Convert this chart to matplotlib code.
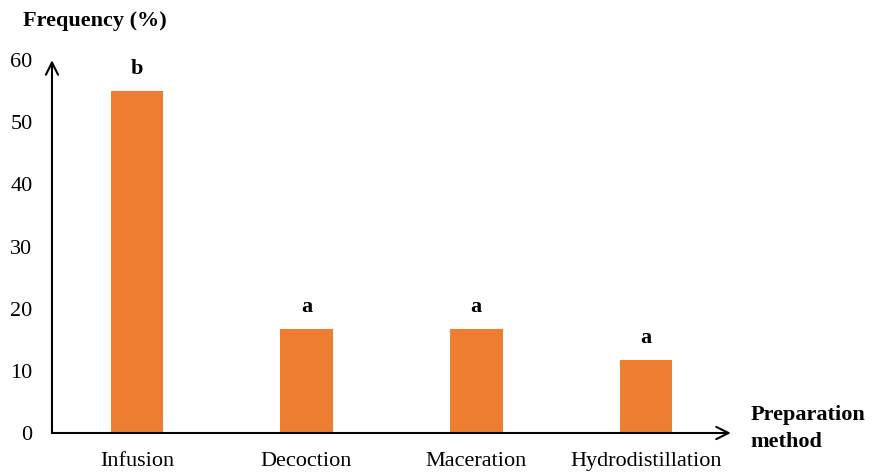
import matplotlib.pyplot as plt

# data
methods = ['Infusion', 'Decoction', 'Maceration', 'Hydrodistillation']
frequency = [55.0, 16.67, 16.67, 11.67]
letters = ['b', 'a', 'a', 'a']
yticks = [0, 10, 20, 30, 40, 50, 60]

plt.rcParams['font.family'] = ['Liberation Serif', 'DejaVu Serif']

fig = plt.figure(figsize=(8.72, 4.74), dpi=100)
ax = fig.add_axes([0.0596, 0.0865, 0.7785, 0.7865])

x = range(len(methods))
bars = ax.bar(x, frequency, width=0.31, color='#ED7D31')

# significance letters above bars
for xi, v, s in zip(x, frequency, letters):
    ax.annotate(s, (xi, v), xytext=(0, 9), textcoords='offset points',
                ha='center', va='bottom', fontsize=16, fontweight='bold')

ax.set_xlim(-0.5, 3.5)
ax.set_ylim(0, 60)
ax.set_yticks(yticks)
ax.set_xticks(list(x))
ax.set_xticklabels(methods)
ax.tick_params(axis='both', length=0, labelsize=16)
ax.tick_params(axis='y', pad=14)
ax.tick_params(axis='x', pad=14)

for sp in ax.spines.values():
    sp.set_visible(False)

# axis arrows
ax.annotate('', xy=(0, 1), xytext=(0, 0), xycoords='axes fraction',
            arrowprops=dict(arrowstyle='->', lw=1.5, color='black',
                            mutation_scale=22, shrinkA=0, shrinkB=0))
ax.annotate('', xy=(1, 0), xytext=(0, 0), xycoords='axes fraction',
            arrowprops=dict(arrowstyle='->', lw=1.5, color='black',
                            mutation_scale=22, shrinkA=0, shrinkB=0))

fig.text(0.026, 0.955, 'Frequency (%)', fontsize=16, fontweight='bold',
         ha='left', va='center')
fig.text(0.861, 0.096, 'Preparation\nmethod', fontsize=16, fontweight='bold',
         ha='left', va='center', linespacing=1.5)

fig.savefig('out.png', dpi=100)
